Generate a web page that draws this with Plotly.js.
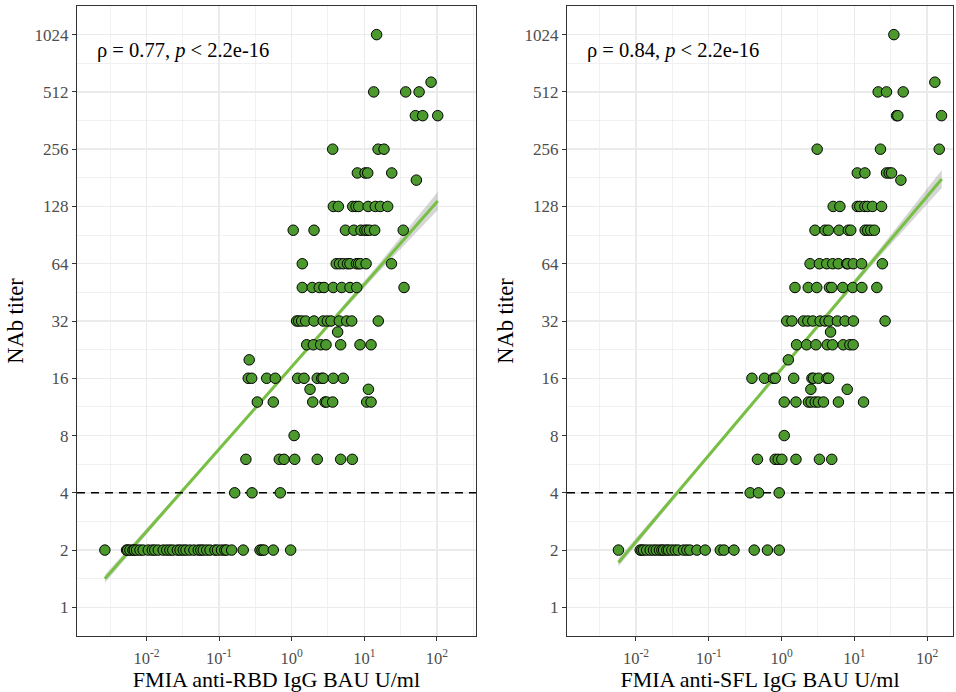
<!DOCTYPE html>
<html><head><meta charset="utf-8">
<script src="https://cdn.plot.ly/plotly-3.0.1.min.js"></script>
<style>html,body{margin:0;padding:0;background:#fff}#chart{width:956px;height:692px}</style>
</head><body><div id="chart"></div>
<script>
// ---- Panel A: FMIA anti-RBD IgG (BAU U/ml) vs NAb titer ----
const rbdIgG = [
  14.8,
  83.2,
  13.5, 37.2, 56.9,
  50.6, 63.8, 102.8,
  3.67, 15.5, 18.7,
  8.03, 10.25, 11.15, 23.9,
  52.2,
  3.75, 4.4, 6.93, 7.7, 8.38, 11.3, 14.2, 16.7, 21.0,
  1.05, 2.03, 5.5, 7.2, 9.0, 10.2, 10.9, 11.8, 13.9, 34.4,
  1.40, 4.11, 4.56, 5.14, 5.87, 6.35, 7.81, 8.32, 8.87, 10.6, 23.7,
  1.40, 1.92, 2.40, 2.79, 3.74, 4.89, 6.36, 7.87, 35.3,
  1.17, 1.25, 1.37, 1.56, 2.03, 2.72, 3.1, 3.48, 4.53, 5.72, 6.71, 15.6,
  4.30,
  1.61, 1.99, 2.51, 2.97, 4.73, 8.73, 12.4,
  0.26,
  0.252, 0.281, 0.453, 0.594, 1.21, 1.48, 2.25, 2.59, 2.72, 3.74, 5.14,
  1.79, 11.4,
  0.336, 0.558, 1.95, 2.88, 3.03, 3.67, 10.8, 12.4,
  1.08,
  0.234, 0.675, 0.784, 1.10, 2.25, 4.73, 6.84,
  0.164, 0.284, 0.697,
  0.00267, 0.00532, 0.0055, 0.00592, 0.0065, 0.0068, 0.00731, 0.00813, 0.009, 0.01057,
  0.012, 0.013, 0.01452, 0.0170, 0.019, 0.0210, 0.023, 0.0266, 0.029, 0.0321,
  0.035, 0.0396, 0.045, 0.0516, 0.056, 0.0605, 0.0675, 0.075, 0.0877, 0.095,
  0.108, 0.12, 0.127, 0.149, 0.215, 0.366, 0.39, 0.415, 0.558, 0.968
];
const rbdNAb = [
  1024,
  576,
  512, 512, 512,
  384, 384, 384,
  256, 256, 256,
  192, 192, 192, 192,
  176,
  128, 128, 128, 128, 128, 128, 128, 128, 128,
  96, 96, 96, 96, 96, 96, 96, 96, 96, 96,
  64, 64, 64, 64, 64, 64, 64, 64, 64, 64, 64,
  48, 48, 48, 48, 48, 48, 48, 48, 48,
  32, 32, 32, 32, 32, 32, 32, 32, 32, 32, 32, 32,
  28,
  24, 24, 24, 24, 24, 24, 24,
  20,
  16, 16, 16, 16, 16, 16, 16, 16, 16, 16, 16,
  14, 14,
  12, 12, 12, 12, 12, 12, 12, 12,
  8,
  6, 6, 6, 6, 6, 6, 6,
  4, 4, 4,
  2, 2, 2, 2, 2, 2, 2, 2, 2, 2,
  2, 2, 2, 2, 2, 2, 2, 2, 2, 2,
  2, 2, 2, 2, 2, 2, 2, 2, 2, 2,
  2, 2, 2, 2, 2, 2, 2, 2, 2, 2
];
// fitted regression line and its confidence band
const rbdBandX  = [0.002673, 0.0316, 0.316, 3.162, 15.85, 102.8];
const rbdFitY   = [1.415, 4.124, 11.17, 30.27, 60.84, 136.6];
const rbdBandLo = [1.348, 4.025, 10.97, 29.55, 57.96, 122.5];
const rbdBandHi = [1.486, 4.225, 11.38, 31.02, 63.87, 152.3];
const rbdLabel = 'ρ = 0.77, <i>p</i> &lt; 2.2e-16';

// ---- Panel B: FMIA anti-SFL IgG (BAU U/ml) vs NAb titer ----
const sflIgG = [
  35.0,
  128,
  21.3, 27.7, 47.0,
  38.1, 39.7, 158,
  3.09, 22.9, 147,
  11.0, 14.0, 27.7, 30.2, 32.5,
  43.7,
  5.13, 6.34, 11.0, 11.9, 14.0, 15.2, 17.8, 23.7,
  2.88, 3.96, 4.40, 6.17, 8.28, 8.94, 14.1, 15.3, 16.8, 18.9,
  2.47, 3.31, 4.18, 5.06, 6.04, 7.87, 8.13, 9.70, 12.6, 24.3,
  1.53, 2.33, 3.05, 4.55, 4.90, 6.95, 9.53, 12.7, 20.4,
  1.18, 1.39, 2.0, 2.3, 2.69, 3.39, 3.97, 4.5, 5.86, 7.47, 9.72, 26.5,
  4.72,
  1.61, 2.21, 2.97, 4.24, 5.02, 7.04, 8.69, 9.66,
  1.24,
  0.392, 0.583, 0.776, 0.82, 1.47, 2.62, 2.75, 3.23, 4.21, 4.43,
  2.53, 8.0,
  1.09, 1.58, 2.34, 2.55, 2.9, 3.21, 3.77, 6.05, 13.4,
  1.09,
  0.467, 0.818, 0.9, 1.01, 1.58, 3.32, 4.90,
  0.371, 0.483, 0.929,
  0.00574, 0.01143, 0.012, 0.0127, 0.014, 0.01567, 0.0174, 0.019, 0.021, 0.0227,
  0.024, 0.0265, 0.028, 0.0311, 0.0346, 0.038, 0.045, 0.050, 0.055, 0.0687,
  0.0893, 0.144, 0.162, 0.222, 0.421, 0.641, 0.93
];
const sflNAb = [
  1024,
  576,
  512, 512, 512,
  384, 384, 384,
  256, 256, 256,
  192, 192, 192, 192, 192,
  176,
  128, 128, 128, 128, 128, 128, 128, 128,
  96, 96, 96, 96, 96, 96, 96, 96, 96, 96,
  64, 64, 64, 64, 64, 64, 64, 64, 64, 64,
  48, 48, 48, 48, 48, 48, 48, 48, 48,
  32, 32, 32, 32, 32, 32, 32, 32, 32, 32, 32, 32,
  28,
  24, 24, 24, 24, 24, 24, 24, 24,
  20,
  16, 16, 16, 16, 16, 16, 16, 16, 16, 16,
  14, 14,
  12, 12, 12, 12, 12, 12, 12, 12, 12,
  8,
  6, 6, 6, 6, 6, 6, 6,
  4, 4, 4,
  2, 2, 2, 2, 2, 2, 2, 2, 2, 2,
  2, 2, 2, 2, 2, 2, 2, 2, 2, 2,
  2, 2, 2, 2, 2, 2, 2
];
const sflBandX  = [0.00574, 0.0631, 0.631, 5.01, 25.1, 159.2];
const sflFitY   = [1.723, 5.109, 14.51, 37.12, 77.06, 178.3];
const sflBandLo = [1.642, 4.987, 14.25, 36.23, 73.41, 159.9];
const sflBandHi = [1.809, 5.235, 14.77, 38.03, 80.90, 198.8];
const sflLabel = 'ρ = 0.84, <i>p</i> &lt; 2.2e-16';

// ---- shared axis content ----
const cutoffTiter = 4;
const yTickVals = [1, 2, 4, 8, 16, 32, 64, 128, 256, 512, 1024];
const yTickText = ['1', '2', '4', '8', '16', '32', '64', '128', '256', '512', '1024'];
const yMinorVals = [0.7071, 1.4142, 2.8284, 5.6569, 11.314, 22.627, 45.255, 90.51, 181.02, 362.04, 724.08, 1448.15];
const xTickVals = [0.01, 0.1, 1, 10, 100];
const xTickText = ['10<sup>-2</sup>', '10<sup>-1</sup>', '10<sup>0</sup>', '10<sup>1</sup>', '10<sup>2</sup>'];
const xMinorVals = [0.003162, 0.03162, 0.3162, 3.162, 31.62, 316.2];
const xTitles = ['FMIA anti-RBD IgG BAU U/ml', 'FMIA anti-SFL IgG BAU U/ml'];
const yTitle = 'NAb titer';

const FONT = 'Liberation Serif, Times New Roman, serif';
const POINT_FILL = '#4c9a2e';
const LINE_COL = '#77c043';
const GRID = '#ebebeb';
const xRangeA = [-2.958, 2.539];
const xRangeB = [-2.948, 2.357];

function panelTraces(xs, ys, bx, fit, lo, hi, xa, ya, xr) {
  return [
    { type: 'scatter', mode: 'lines', xaxis: xa, yaxis: ya,
      x: bx.concat(bx.slice().reverse()), y: hi.concat(lo.slice().reverse()),
      fill: 'toself', fillcolor: 'rgba(153,153,153,0.4)', line: { width: 0 },
      hoverinfo: 'skip', showlegend: false },
    { type: 'scatter', mode: 'lines', xaxis: xa, yaxis: ya,
      x: [bx[0], bx[bx.length - 1]], y: [fit[0], fit[fit.length - 1]],
      line: { color: LINE_COL, width: 3 }, showlegend: false },
    // NAb positivity cut-off, spanning the full axis range
    { type: 'scatter', mode: 'lines', xaxis: xa, yaxis: ya,
      x: [Math.pow(10, xr[0]), Math.pow(10, xr[1])], y: [cutoffTiter, cutoffTiter],
      line: { color: '#000', width: 1.4, dash: '8px,6px' }, showlegend: false, hoverinfo: 'skip' },
    { type: 'scatter', mode: 'markers', xaxis: xa, yaxis: ya, x: xs, y: ys,
      marker: { size: 10.5, color: POINT_FILL, line: { color: '#000', width: 1 } },
      showlegend: false }
  ];
}

function xAxis(domain, range, anchor, title) {
  return {
    type: 'log', domain: domain, range: range, anchor: anchor,
    tickmode: 'array', tickvals: xTickVals, ticktext: xTickText,
    ticks: 'outside', ticklen: 4, tickwidth: 1, tickcolor: '#333',
    ticklabelstandoff: 3,
    showline: true, mirror: true, linecolor: '#333', linewidth: 1,
    showgrid: true, gridcolor: GRID, gridwidth: 1.4, zeroline: false,
    minor: { tickmode: 'array', tickvals: xMinorVals, showgrid: true, gridcolor: GRID, gridwidth: 0.7, ticks: '' },
    tickfont: { family: FONT, size: 16.5, color: '#4d4d4d' },
    title: { text: title, font: { family: FONT, size: 22, color: '#000' }, standoff: 0 },
    automargin: false
  };
}
function yAxis(anchor) {
  return {
    type: 'log', domain: [0, 1], range: [-0.1505, 3.1608], anchor: anchor,
    tickmode: 'array', tickvals: yTickVals, ticktext: yTickText,
    ticks: 'outside', ticklen: 4, tickwidth: 1, tickcolor: '#333',
    showline: true, mirror: true, linecolor: '#333', linewidth: 1,
    showgrid: true, gridcolor: GRID, gridwidth: 1.4, zeroline: false,
    minor: { tickmode: 'array', tickvals: yMinorVals, showgrid: true, gridcolor: GRID, gridwidth: 0.7, ticks: '' },
    tickfont: { family: FONT, size: 17, color: '#4d4d4d' },
    title: { text: yTitle, font: { family: FONT, size: 22.5, color: '#000' }, standoff: 4 },
    automargin: false
  };
}

const data = panelTraces(rbdIgG, rbdNAb, rbdBandX, rbdFitY, rbdBandLo, rbdBandHi, 'x', 'y', xRangeA)
  .concat(panelTraces(sflIgG, sflNAb, sflBandX, sflFitY, sflBandLo, sflBandHi, 'x2', 'y2', xRangeB));

const layout = {
  width: 956, height: 692,
  margin: { l: 0, r: 0, t: 6, b: 56, pad: 0 },
  paper_bgcolor: '#fff', plot_bgcolor: '#fff',
  showlegend: false,
  font: { family: FONT },
  xaxis: xAxis([0.0805, 0.4979], xRangeA, 'y', xTitles[0]),
  yaxis: yAxis('x'),
  xaxis2: xAxis([0.5931, 0.9969], xRangeB, 'y2', xTitles[1]),
  yaxis2: yAxis('x2'),
  annotations: [
    { xref: 'x domain', yref: 'y domain', x: 0.045, y: 0.9286, xanchor: 'left', yanchor: 'middle',
      text: rbdLabel, showarrow: false, font: { family: FONT, size: 20.5, color: '#000' } },
    { xref: 'x2 domain', yref: 'y2 domain', x: 0.0466, y: 0.9286, xanchor: 'left', yanchor: 'middle',
      text: sflLabel, showarrow: false, font: { family: FONT, size: 20.5, color: '#000' } }
  ]
};

Plotly.newPlot('chart', data, layout, { displayModeBar: false, staticPlot: true });
</script></body></html>
